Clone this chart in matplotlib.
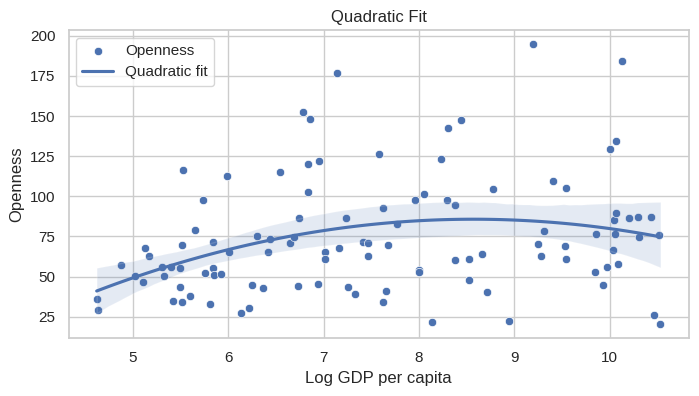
import matplotlib
matplotlib.use("Agg")
import matplotlib.pyplot as plt
import seaborn as sns

# values
log_gdp = [
    4.62, 4.63, 4.88, 5.02, 5.105, 5.13, 5.165, 5.30, 5.325, 5.395,
    5.42, 5.49, 5.49, 5.51, 5.51, 5.53, 5.60, 5.65, 5.73, 5.76,
    5.81, 5.84, 5.84, 5.85, 5.92, 5.985, 6.01, 6.13, 6.22, 6.25,
    6.30, 6.36, 6.415, 6.44, 6.54, 6.65, 6.69, 6.73, 6.74, 6.78,
    6.84, 6.84, 6.855, 6.94, 6.95, 7.01, 7.01, 7.135, 7.16, 7.23,
    7.25, 7.33, 7.41, 7.46, 7.47, 7.585, 7.62, 7.62, 7.65, 7.67,
    7.77, 7.955, 8.0, 8.0, 8.05, 8.14, 8.225, 8.29, 8.30, 8.375,
    8.375, 8.44, 8.52, 8.52, 8.665, 8.71, 8.78, 8.94, 9.19, 9.245,
    9.28, 9.305, 9.40, 9.53, 9.545, 9.545, 9.84, 9.855, 9.93, 9.975,
    10.0, 10.03, 10.04, 10.05, 10.06, 10.06, 10.09, 10.13, 10.2, 10.30,
    10.31, 10.43, 10.46, 10.52, 10.53,
]
openness = [
    36.2, 29.3, 57.3, 50.5, 46.7, 67.9, 62.9, 56.1, 50.5, 56.1,
    34.9, 55.5, 43.6, 69.8, 34.3, 116.4, 38.0, 79.1, 97.8, 52.3,
    33.0, 71.6, 55.5, 51.1, 51.7, 112.7, 65.4, 27.4, 30.6, 44.9,
    75.4, 43.0, 65.4, 73.5, 115.2, 71.0, 74.7, 44.2, 86.6, 152.5,
    120.2, 102.7, 148.2, 45.5, 122.0, 65.4, 61.0, 176.8, 67.9, 86.6,
    43.6, 39.3, 71.6, 71.0, 62.9, 126.4, 34.4, 92.8, 41.2, 69.8,
    82.8, 97.8, 54.4, 53.0, 101.5, 22.0, 123.3, 97.8, 142.6, 94.6,
    60.4, 147.5, 61.0, 48.0, 64.2, 40.5, 104.6, 22.5, 194.8, 70.6,
    62.9, 78.5, 109.6, 69.1, 105.2, 61.0, 53.0, 76.6, 44.9, 56.1,
    129.7, 66.6, 85.3, 76.6, 89.9, 134.7, 58.0, 184.3, 86.6, 87.2,
    74.7, 87.2, 26.2, 76.0, 20.6,
]

sns.set_theme(style="whitegrid")
plt.rcParams["font.family"] = ["Liberation Sans", "DejaVu Sans"]

fig, ax = plt.subplots(figsize=(6.99, 3.96), dpi=100)

sns.scatterplot(x=log_gdp, y=openness, label="Openness", ax=ax)
sns.regplot(x=log_gdp, y=openness, order=2, scatter=False, seed=0,
            label="Quadratic fit", ax=ax)

ax.set_title("Quadratic Fit")
ax.set_xlabel("Log GDP per capita")
ax.set_ylabel("Openness")
ax.legend(loc="upper left")

fig.subplots_adjust(left=0.098, right=0.985, top=0.924, bottom=0.147)
fig.savefig("out.png")
